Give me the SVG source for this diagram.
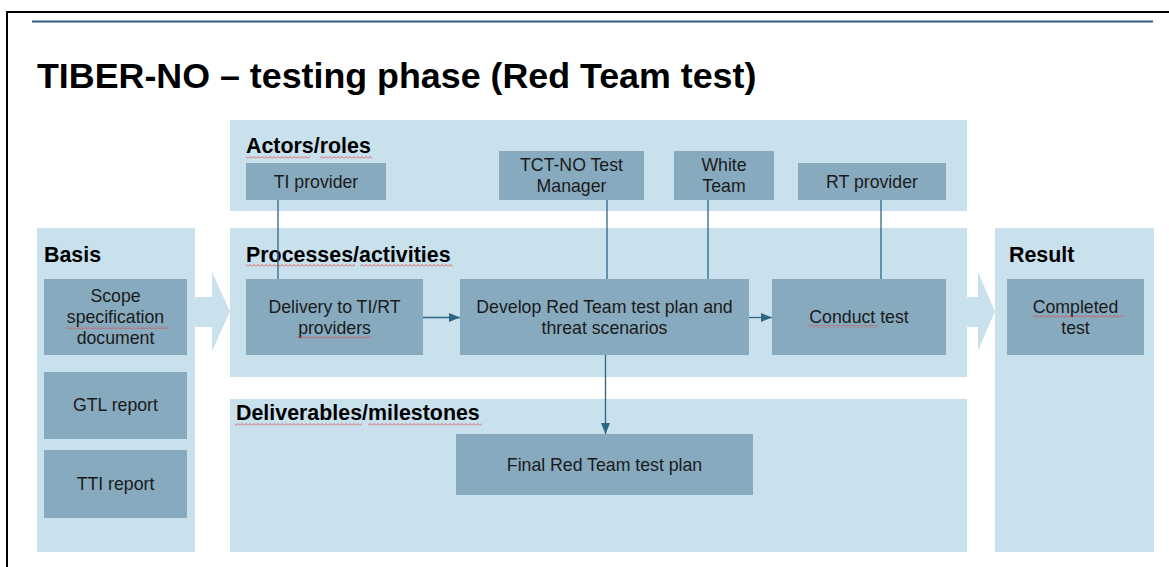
<svg xmlns="http://www.w3.org/2000/svg" width="1169" height="567" viewBox="0 0 1169 567">
  <style>
    .panel { fill: #c9e0ed; }
    .box { fill: #87aabf; }
    .label { font-family: "Liberation Sans", Arial, sans-serif; font-weight: bold; font-size: 21.4px; fill: #000; }
    .txt { font-family: "Liberation Sans", Arial, sans-serif; font-size: 17.7px; fill: #1a1a1a; text-anchor: middle; }
    .title { font-family: "Liberation Sans", Arial, sans-serif; font-weight: bold; font-size: 35.8px; fill: #000; }
    .link { stroke: #2e6686; stroke-width: 1.3; fill: none; }
    .spell { fill: url(#squiggle); }
  </style>
  <defs>
    <marker id="arrow" markerUnits="userSpaceOnUse" markerWidth="12" markerHeight="10" refX="11" refY="5" orient="auto">
      <path d="M0,0.5 L11,5 L0,9.5 Z" fill="#2e6686"/>
    </marker>
    <pattern id="squiggle" patternUnits="userSpaceOnUse" width="4" height="3">
      <polyline points="0,2.5 2,0.5 4,2.5" fill="none" stroke="#e0443c" stroke-width="0.8"/>
    </pattern>
  </defs>

  <rect width="1169" height="567" fill="#fff"/>

  <!-- slide frame and header rule -->
  <path d="M7,567 V12 H1169" fill="none" stroke="#000" stroke-width="2"/>
  <line x1="32" y1="21.5" x2="1153" y2="21.5" stroke="#2f5f7f" stroke-width="2.2"/>

  <text class="title" x="37" y="88">TIBER-NO – testing phase (Red Team test)</text>

  <!-- swimlane panels -->
  <g id="panel-actors">
    <rect class="panel" x="230" y="120" width="737" height="91"/>
    <text class="label" x="246" y="153">Actors/roles</text>
    <rect class="spell" x="246" y="156" width="64" height="3"/>
    <rect class="spell" x="320" y="156" width="52" height="3"/>
  </g>
  <g id="panel-processes">
    <rect class="panel" x="230" y="228" width="737" height="149"/>
    <text class="label" x="246" y="262">Processes/activities</text>
    <rect class="spell" x="246" y="264" width="109" height="3"/>
    <rect class="spell" x="360" y="264" width="93" height="3"/>
  </g>
  <g id="panel-deliverables">
    <rect class="panel" x="230" y="399" width="737" height="153"/>
    <text class="label" x="236" y="420">Deliverables/milestones</text>
    <rect class="spell" x="235" y="423" width="127" height="3"/>
    <rect class="spell" x="368" y="423" width="114" height="3"/>
  </g>
  <g id="panel-basis">
    <rect class="panel" x="37" y="228" width="158" height="324"/>
    <polygon class="panel" points="190,297 212,297 212,272 230,311.5 212,351 212,327 190,327"/>
    <text class="label" x="44" y="262">Basis</text>
  </g>
  <g id="panel-result">
    <polygon class="panel" points="967,297 978,297 978,272 995,311.5 978,351 978,327 967,327"/>
    <rect class="panel" x="995" y="228" width="159" height="324"/>
    <text class="label" x="1009" y="262">Result</text>
  </g>

  <!-- connectors -->
  <g id="connectors">
    <line class="link" x1="278" y1="200" x2="278" y2="279"/>
    <line class="link" x1="607" y1="200" x2="607" y2="279"/>
    <line class="link" x1="708" y1="200" x2="708" y2="279"/>
    <line class="link" x1="881" y1="200" x2="881" y2="279"/>
    <line class="link" x1="423" y1="317.5" x2="460" y2="317.5" marker-end="url(#arrow)"/>
    <line class="link" x1="749" y1="317.5" x2="772" y2="317.5" marker-end="url(#arrow)"/>
    <line class="link" x1="605.5" y1="355" x2="605.5" y2="434" marker-end="url(#arrow)"/>
  </g>

  <!-- actors -->
  <g id="ti-provider">
    <rect class="box" x="246" y="163" width="140" height="37"/>
    <text class="txt" x="316" y="188">TI provider</text>
  </g>
  <g id="tct-test-manager">
    <rect class="box" x="499" y="151" width="145" height="49"/>
    <text class="txt" x="571.5" y="171">TCT-NO Test</text>
    <text class="txt" x="571.5" y="192">Manager</text>
  </g>
  <g id="white-team">
    <rect class="box" x="674" y="151" width="100" height="49"/>
    <text class="txt" x="724" y="171">White</text>
    <text class="txt" x="724" y="192">Team</text>
  </g>
  <g id="rt-provider">
    <rect class="box" x="798" y="163" width="148" height="37"/>
    <text class="txt" x="872" y="188">RT provider</text>
  </g>

  <!-- basis documents -->
  <g id="scope-document">
    <rect class="box" x="44" y="279" width="143" height="76"/>
    <text class="txt" x="115.5" y="302">Scope</text>
    <text class="txt" x="115.5" y="323">specification</text>
    <text class="txt" x="115.5" y="344">document</text>
    <rect class="spell" x="66" y="326" width="102" height="3"/>
  </g>
  <g id="gtl-report">
    <rect class="box" x="44" y="372" width="143" height="67"/>
    <text class="txt" x="115.5" y="411">GTL report</text>
  </g>
  <g id="tti-report">
    <rect class="box" x="44" y="450" width="143" height="68"/>
    <text class="txt" x="115.5" y="490">TTI report</text>
  </g>

  <!-- processes -->
  <g id="delivery">
    <rect class="box" x="246" y="279" width="177" height="76"/>
    <text class="txt" x="334.5" y="313">Delivery to TI/RT</text>
    <text class="txt" x="334.5" y="334">providers</text>
    <rect class="spell" x="297" y="336" width="74" height="3"/>
  </g>
  <g id="develop-plan">
    <rect class="box" x="460" y="279" width="289" height="76"/>
    <text class="txt" x="604.5" y="313">Develop Red Team test plan and</text>
    <text class="txt" x="604.5" y="334">threat scenarios</text>
  </g>
  <g id="conduct-test">
    <rect class="box" x="772" y="279" width="174" height="76"/>
    <text class="txt" x="859" y="323">Conduct test</text>
    <rect class="spell" x="808" y="325" width="70" height="3"/>
  </g>

  <!-- deliverable -->
  <g id="final-plan">
    <rect class="box" x="456" y="434" width="297" height="61"/>
    <text class="txt" x="604.5" y="471">Final Red Team test plan</text>
  </g>

  <!-- result -->
  <g id="completed-test">
    <rect class="box" x="1007" y="279" width="137" height="76"/>
    <text class="txt" x="1075.5" y="313">Completed</text>
    <text class="txt" x="1075.5" y="334">test</text>
    <rect class="spell" x="1033" y="315" width="90" height="3"/>
  </g>
</svg>
